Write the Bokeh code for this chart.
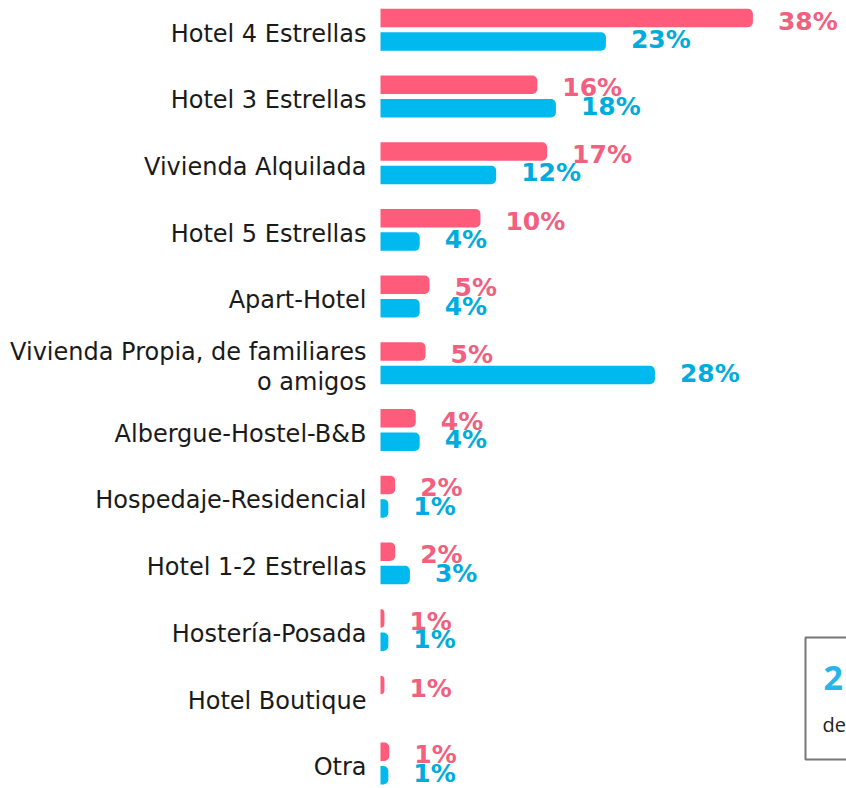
from bokeh.plotting import figure
from bokeh.models import ColumnDataSource, Range1d
from bokeh.core.properties import value
from bokeh.embed import file_html
from bokeh.resources import INLINE

categories = ["Hotel 4 Estrellas", "Hotel 3 Estrellas", "Vivienda Alquilada",
              "Hotel 5 Estrellas", "Apart-Hotel",
              "Vivienda Propia, de familiares\no amigos",
              "Albergue-Hostel-B&B", "Hospedaje-Residencial", "Hotel 1-2 Estrellas",
              "Hostería-Posada", "Hotel Boutique", "Otra"]
pink_values = [38, 16, 17, 10.2, 5, 4.6, 3.6, 1.5, 1.5, 0.4, 0.4, 0.9]
blue_values = [23, 17.9, 11.8, 4, 4, 28, 4, 0.8, 3, 0.8, 0, 0.8]
pink_labels = ["38%", "16%", "17%", "10%", "5%", "5%", "4%", "2%", "2%", "1%", "1%", "1%"]
blue_labels = ["23%", "18%", "12%", "4%", "4%", "28%", "4%", "1%", "3%", "1%", "", "1%"]

PINK = "#FF5C7C"
PINK_TXT = "#F2607F"
BLUE = "#00B9EE"
BLUE_TXT = "#00ACDD"

W, H = 846, 788
X0 = 380          # pixel of value 0
SX = 9.8          # pixels per percent
Y0 = 29           # pixel of first row center
SY = 66.7         # pixels per row

n = len(categories)
rows = list(range(n))
src = ColumnDataSource(dict(
    cat=categories,
    row=rows,
    ypink=[r - 0.172 for r in rows],
    yblue=[r + 0.18 for r in rows],
    pink=pink_values, blue=blue_values,
    plab=pink_labels, blab=blue_labels,
    zero=[0] * n,
))

p = figure(width=W, height=H, output_backend="svg", toolbar_location=None,
           x_range=Range1d(-X0 / SX, (W - X0) / SX),
           y_range=Range1d((H - Y0) / SY, -Y0 / SY),
           min_border=0, outline_line_color=None)
p.axis.visible = False
p.grid.visible = False
p.background_fill_color = "white"
p.border_fill_color = "white"

bh = 18.5 / SY
p.hbar(y="ypink", left=0, right="pink", height=bh, source=src,
       fill_color=PINK, line_color=None, border_radius=[0, 5, 5, 0])
p.hbar(y="yblue", left=0, right="blue", height=bh, source=src,
       fill_color=BLUE, line_color=None, border_radius=[0, 5, 5, 0])

p.text(x="pink", y="ypink", text="plab", source=src, x_offset=25, y_offset=3,
       text_align="left", text_baseline="middle", text_color=PINK_TXT,
       text_font=value("DejaVu Sans"), text_font_style="bold", text_font_size="25px")
p.text(x="blue", y="yblue", text="blab", source=src, x_offset=25, y_offset=-2,
       text_align="left", text_baseline="middle", text_color=BLUE_TXT,
       text_font=value("DejaVu Sans"), text_font_style="bold", text_font_size="25px")

p.text(x="zero", y="row", text="cat", source=src, x_offset=-14, y_offset=4,
       text_align="right", text_baseline="middle", text_color="#1a1a1a",
       text_font=value("DejaVu Sans"), text_font_size="24px", text_line_height=1.05)

# framed note box at bottom right (partly cut off)
def px_x(v):
    return (v - X0) / SX

def px_y(v):
    return (v - Y0) / SY

p.quad(left=px_x(805), right=px_x(W + 20), top=px_y(637), bottom=px_y(759),
       fill_color=None, line_color="#777777", line_width=2)
p.text(x=[px_x(823)], y=[px_y(677)], text=["2"], text_align="left",
       text_baseline="middle", text_color="#29B5E8",
       text_font=value("Open Sans"), text_font_style="bold", text_font_size="34px")
p.text(x=[px_x(822)], y=[px_y(724)], text=["de"], text_align="left",
       text_baseline="middle", text_color="#222222",
       text_font=value("Open Sans"), text_font_size="20px")

open("out.html", "w").write(file_html(p, INLINE))
